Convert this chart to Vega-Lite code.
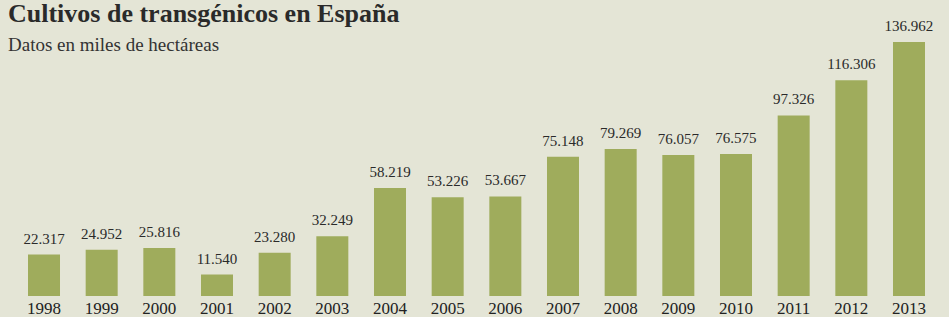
{
  "$schema": "https://vega.github.io/schema/vega-lite/v6.json",
  "width": 949,
  "height": 296,
  "autosize": "none",
  "padding": {"left": 0, "top": 0, "right": 0, "bottom": 21},
  "background": "#e4e5d6",
  "title": {
    "text": "Cultivos de transgénicos en España",
    "subtitle": "Datos en miles de hectáreas",
    "anchor": "start",
    "orient": "top",
    "frame": "group",
    "offset": -55,
    "dx": 8,
    "font": "Liberation Serif",
    "fontSize": 26,
    "fontWeight": "bold",
    "color": "#2a2a2a",
    "subtitleFont": "Liberation Serif",
    "subtitleFontSize": 19,
    "subtitleColor": "#333333",
    "subtitlePadding": 9
  },
  "data": {
    "values": [
      {"year": "1998", "value": 22.317},
      {"year": "1999", "value": 24.952},
      {"year": "2000", "value": 25.816},
      {"year": "2001", "value": 11.540},
      {"year": "2002", "value": 23.280},
      {"year": "2003", "value": 32.249},
      {"year": "2004", "value": 58.219},
      {"year": "2005", "value": 53.226},
      {"year": "2006", "value": 53.667},
      {"year": "2007", "value": 75.148},
      {"year": "2008", "value": 79.269},
      {"year": "2009", "value": 76.057},
      {"year": "2010", "value": 76.575},
      {"year": "2011", "value": 97.326},
      {"year": "2012", "value": 116.306},
      {"year": "2013", "value": 136.962}
    ]
  },
  "encoding": {
    "x": {
      "field": "year",
      "type": "ordinal",
      "scale": {"range": [28, 925], "paddingInner": 0.445, "paddingOuter": 0},
      "axis": {
        "title": null,
        "domain": false,
        "ticks": false,
        "labelAngle": 0,
        "labelFont": "Liberation Serif",
        "labelFontSize": 17,
        "labelColor": "#222222",
        "labelPadding": 4
      }
    },
    "y": {
      "field": "value",
      "type": "quantitative",
      "scale": {"domain": [0, 159.6], "nice": false},
      "axis": null
    }
  },
  "layer": [
    {"mark": {"type": "bar", "color": "#9fac5c"}},
    {
      "mark": {
        "type": "text",
        "baseline": "alphabetic",
        "dy": -11,
        "font": "Liberation Serif",
        "fontSize": 15,
        "color": "#2a2a2a"
      },
      "encoding": {"text": {"field": "value", "type": "quantitative", "format": ".3f"}}
    }
  ],
  "config": {"view": {"stroke": null}}
}
